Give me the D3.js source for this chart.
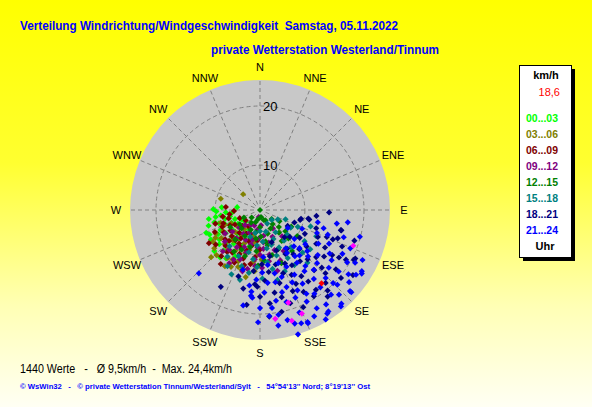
<!DOCTYPE html>
<html lang="de">
<head>
<meta charset="UTF-8">
<title>Verteilung Windrichtung/Windgeschwindigkeit</title>
<script src="https://d3js.org/d3.v7.min.js"></script>
<style>
  body { margin: 0; }
  svg { display: block; font-family: Arial, "Liberation Sans", sans-serif; }
  text { white-space: pre; }
</style>
</head>
<body>
<svg id="chart" width="592" height="407"></svg>
<script>
// [Richtung in Grad, Geschwindigkeit in km/h] je 3-Stunden-Block
const hours00 = [[271,10.3],[277,6.3],[255,10.4],[252,9.7],[230,11.4],[215,12.4],[262,9.1],[266,8.2],[248,8.8],[240,10.6],[236,9.4],[244,11.9],[258,7.6],[250,6.9],[233,8.1],[226,10.2],[222,11.6],[228,12.8],[218,9.6],[212,10.8],[260,11.2],[268,9.8],[246,7.7],[238,6.8],[224,7.9],[216,8.4],[206,9.2],[200,7.4],[210,6.2],[231,5.6],[242,5.9],[256,8.5],[264,7.2],[274,8.9],[234,10.9],[220,12.9],[247,12.3],[253,11.5],[239,12.1],[227,9.0],[208,11.3],[196,8.8],[213,7.0],[243,9.9],[261,10.0]];
const hours03 = [[286,9.3],[313,6.3],[226,13.9],[224,13.0],[207,13.2],[197,13.0],[234,10.5],[247,8.9],[192,14.0],[214,12.2],[219,11.0],[230,12.5],[238,11.3],[203,11.8],[211,10.4],[199,10.1],[222,9.3],[240,9.6],[205,8.6],[216,7.5],[228,8.0],[195,9.4],[187,11.2],[182,9.9],[201,12.7],[209,12.0],[233,7.1],[245,7.8],[252,9.4],[220,6.6],[190,7.9],[185,12.8],[236,12.0],[212,13.6],[178,10.8],[226,10.7],[242,10.9],[194,6.9]];
const hours06 = [[275,8.2],[244,10.9],[216,13.7],[262,7.6],[190,11.7],[268,6.8],[250,9.0],[235,8.5],[225,9.8],[212,9.1],[205,10.6],[198,9.6],[218,11.4],[230,10.1],[240,7.3],[255,7.9],[228,6.4],[210,7.0],[200,8.0],[193,8.6],[186,10.4],[214,8.2],[222,7.6],[238,9.6],[248,6.1],[260,8.8],[232,11.9],[206,12.3],[196,12.1],[220,12.6],[243,8.1],[224,10.8],[208,9.5],[202,6.7],[216,5.8],[185,7.6],[227,8.9],[237,12.7],[253,10.3],[213,11.0],[199,11.1],[180,9.1],[234,5.4],[246,9.4],[219,9.0]];
const hours09 = [[190,3.6],[140,8.2],[202,11.4],[164,13.1],[175,9.0],[182,7.2],[195,8.4],[205,6.6],[212,9.8],[220,8.6],[228,10.4],[186,10.8],[170,11.2],[160,9.6],[178,12.2],[192,12.6],[198,10.0],[208,11.9],[215,7.3],[225,6.0],[232,8.3],[200,5.2],[188,5.8],[172,6.8],[155,7.4],[150,10.4],[165,8.1],[180,10.0],[210,12.8],[236,9.5],[218,10.9],[194,7.6],[203,9.2],[184,8.7],[168,10.1],[176,5.0],[222,11.8],[196,13.2],[145,6.2],[158,11.6],[230,7.0],[212,5.4],[185,11.9],[174,7.9],[206,8.0]];
const hours12 = [[180,2.4],[128,4.9],[162,6.6],[180,5.3],[150,6.0],[140,7.4],[135,9.2],[145,8.8],[155,9.7],[170,7.8],[190,6.2],[200,4.6],[215,5.0],[225,6.8],[210,7.5],[195,8.9],[185,9.4],[165,10.3],[175,11.0],[160,4.2],[120,6.2],[130,8.0],[148,10.9],[205,9.8],[220,8.9],[235,6.6],[245,5.4],[172,3.6],[138,5.6],[152,4.4],[188,7.3],[198,10.6],[228,4.3],[240,8.2],[118,8.4],[168,8.5],[182,11.8],[212,10.7],[125,10.1],[142,11.2],[158,12.1],[192,4.0],[205,6.1],[178,6.9],[132,6.7]];
const hours15 = [[130,5.0],[120,8.4],[114,9.4],[196,14.7],[204,14.3],[153,9.5],[183,12.1],[140,10.6],[150,11.8],[160,10.6],[170,9.0],[125,11.6],[135,12.6],[145,7.0],[165,6.2],[175,7.8],[185,8.4],[195,9.8],[205,11.0],[215,12.0],[190,13.2],[178,14.0],[168,12.6],[158,13.6],[148,13.4],[110,7.0],[118,5.8],[132,8.6],[142,9.0],[155,7.8],[162,8.6],[172,11.3],[188,10.8],[198,12.4],[210,13.4],[220,10.4],[138,14.4],[128,13.2],[108,11.4],[180,6.0],[152,5.0],[200,7.2],[166,14.6],[115,12.9],[192,6.4]];
const hours18 = [[92,14.1],[104,9.4],[101,10.9],[104,16.6],[118,20.4],[142,21.0],[207,17.0],[182,15.4],[100,10.7],[102,9.5],[104,16.5],[108,12.4],[112,14.6],[112,15.7],[110,16.4],[117,20.5],[120,19.2],[120,15.1],[128,12.4],[121,13.5],[184,15.0],[175,20.5],[168,20.0],[133,16.7],[138,19.0],[145,18.9],[121,18.0],[125,21.6],[150,11.0],[155,12.4],[160,13.8],[165,15.2],[170,16.6],[158,17.2],[148,15.6],[142,13.4],[135,11.8],[130,14.8],[138,16.1],[152,18.1],[162,19.0],[172,13.0],[178,11.6],[168,10.4],[158,9.8],[145,10.4],[132,9.2],[125,10.6],[118,11.0],[115,13.2],[126,15.8],[134,17.8],[146,17.0],[154,14.6],[164,12.0],[176,14.4],[186,12.8],[192,16.0],[198,14.2],[188,18.6],[156,20.4],[140,20.2],[128,18.7],[114,17.6],[108,19.2],[96,12.0],[110,8.6],[120,7.8],[138,8.6],[160,8.2],[150,13.2],[143,11.8],[166,17.6],[174,18.3],[180,17.1],[148,19.6],[130,20.3],[122,16.8],[136,14.0],[154,16.3]];
const hours21 = [[98,17.4],[105,19.9],[122,22.7],[132,23.2],[140,23.7],[147,23.3],[157,23.2],[163,24.4],[163,22.5],[224,17.3],[186,17.0],[175,20.4],[108,17.3],[123,8.0],[134,11.7],[134,13.7],[128,14.8],[186,16.3],[185,17.3],[173,19.1],[157,23.0],[146,23.1],[139,23.4],[132,22.9],[121,22.5],[121,19.6],[128,19.3],[135,19.9],[155,17.4],[161,16.2],[162,14.3],[174,14.8],[178,13.0],[145,13.3],[138,16.0],[122,16.3],[112,12.8],[116,15.4],[118,18.2],[126,20.9],[130,17.6],[133,15.6],[136,18.4],[140,21.1],[142,17.2],[144,15.2],[147,19.3],[150,21.6],[150,16.8],[152,14.8],[153,19.8],[156,15.8],[158,18.4],[159,21.0],[164,18.6],[165,16.8],[166,21.6],[168,14.9],[170,18.0],[171,22.2],[177,16.4],[180,19.0],[181,21.4],[183,14.2],[188,15.3],[190,18.8],[143,12.2],[137,10.8],[127,12.0],[120,13.8],[114,10.2],[110,14.6],[106,13.6],[102,12.4],[148,11.0],[141,14.6],[131,13.0],[125,17.2],[119,20.8],[113,19.0],[129,21.8],[137,22.0],[145,21.9],[153,22.6],[160,22.8],[149,24.0],[134,20.6],[124,22.0],[155,13.0],[167,13.4],[172,11.8],[176,10.4],[196,12.9],[100,15.6],[116,21.7],[142,19.0],[146,10.2],[161,11.9],[151,18.6],[139,12.6],[130,10.0],[170,20.4]];
const markedValues = [[111,19.3],[163,18.8],[158,21.3],[172,21.0],[164,21.9]];
const currentValue = [[140,18.6]];

const hourLabels = ["00...03", "03...06", "06...09", "09...12", "12...15", "15...18", "18...21", "21...24"];
const compassLabels = ["N","NNE","NE","ENE","E","ESE","SE","SSE","S","SSW","SW","WSW","W","WNW","NW","NNW"];
const ringTicks = [10, 20];

const series = [hours00, hours03, hours06, hours09, hours12, hours15, hours18, hours21];
const hourColors = ["#00ff00", "#808000", "#800000", "#800080", "#008000", "#008080", "#000080", "#0000ff"];

const svg = d3.select("#chart");
const cx = 260, cy = 210, outerR = 130;

// Hintergrund
const grad = svg.append("defs").append("linearGradient")
    .attr("id", "bg").attr("x1", 0).attr("y1", 0).attr("x2", 0).attr("y2", 1);
grad.append("stop").attr("offset", "0%").attr("stop-color", "#ffff00");
grad.append("stop").attr("offset", "40%").attr("stop-color", "#ffff30");
grad.append("stop").attr("offset", "75%").attr("stop-color", "#ffffb4");
grad.append("stop").attr("offset", "100%").attr("stop-color", "#fffff4");
svg.append("rect").attr("width", 592).attr("height", 407).attr("fill", "url(#bg)");

const rScale = d3.scaleLinear().domain([2.4, 24.4]).range([0, outerR]).clamp(true);
const aScale = d3.scaleLinear().domain([0, 360]).range([0, 2 * Math.PI]);

const px = d => cx + rScale(d[1]) * Math.sin(aScale(d[0]));
const py = d => cy - rScale(d[1]) * Math.cos(aScale(d[0]));

const plot = svg.append("g");
plot.append("circle").attr("cx", cx).attr("cy", cy).attr("r", outerR).attr("fill", "#c8c8c8");

// Speichen
plot.selectAll(".spoke")
    .data(compassLabels)
    .enter().append("line")
    .attr("x1", (d, i) => cx + 6 * Math.sin(aScale(i * 22.5)))
    .attr("y1", (d, i) => cy - 6 * Math.cos(aScale(i * 22.5)))
    .attr("x2", (d, i) => cx + outerR * Math.sin(aScale(i * 22.5)))
    .attr("y2", (d, i) => cy - outerR * Math.cos(aScale(i * 22.5)))
    .attr("stroke", "#808080").attr("stroke-width", 1).attr("stroke-dasharray", "4,3");

// Ringe
plot.selectAll(".ring")
    .data(ringTicks)
    .enter().append("circle")
    .attr("cx", cx).attr("cy", cy).attr("r", d => rScale(d))
    .attr("fill", "none")
    .attr("stroke", "#808080").attr("stroke-width", 1).attr("stroke-dasharray", "4,3");

plot.selectAll(".ringlabel")
    .data(ringTicks)
    .enter().append("text")
    .attr("x", cx + 3)
    .attr("y", d => cy - rScale(d))
    .attr("dy", "0.35em")
    .attr("font-size", "13px")
    .attr("fill", "#000")
    .text(d => d);

// Himmelsrichtungen
svg.selectAll(".compass")
    .data(compassLabels)
    .enter().append("text")
    .attr("x", (d, i) => cx + 144 * Math.sin(aScale(i * 22.5)))
    .attr("y", (d, i) => cy - 143 * Math.cos(aScale(i * 22.5)))
    .attr("dy", "0.36em")
    .attr("text-anchor", "middle")
    .attr("font-size", "11px")
    .attr("fill", "#000")
    .text(d => d);

// Messwerte
const diamond = d3.symbol().type(d3.symbolSquare).size(19);

function drawPoints(data, color) {
    plot.append("g").selectAll("path")
        .data(data)
        .enter().append("path")
        .attr("d", diamond)
        .attr("transform", d => `translate(${px(d)},${py(d)}) rotate(45)`)
        .attr("fill", color);
}

series.forEach((s, i) => drawPoints(s, hourColors[i]));
drawPoints(markedValues, "#ff00ff");
drawPoints(currentValue, "#ff0000");

// Titel
svg.append("text")
    .attr("x", 20).attr("y", 30)
    .attr("font-size", "13px").attr("font-weight", "bold").attr("fill", "#0000ff")
    .attr("textLength", 378).attr("lengthAdjust", "spacingAndGlyphs")
    .text("Verteilung Windrichtung/Windgeschwindigkeit  Samstag, 05.11.2022");

svg.append("text")
    .attr("x", 211).attr("y", 54)
    .attr("font-size", "13px").attr("font-weight", "bold").attr("fill", "#0000ff")
    .attr("textLength", 228).attr("lengthAdjust", "spacingAndGlyphs")
    .text("private Wetterstation Westerland/Tinnum");

// Legende
const legend = svg.append("g");
legend.append("rect").attr("x", 523).attr("y", 69).attr("width", 52).attr("height", 192).attr("fill", "#000");
legend.append("rect").attr("x", 519.5).attr("y", 65.5).attr("width", 52).attr("height", 192)
    .attr("fill", "#fff").attr("stroke", "#000").attr("stroke-width", 1);

legend.append("text")
    .attr("x", 546).attr("y", 79).attr("text-anchor", "middle")
    .attr("font-size", "11px").attr("font-weight", "bold").attr("fill", "#000")
    .text("km/h");

legend.append("text")
    .attr("x", 560).attr("y", 96).attr("text-anchor", "end")
    .attr("font-size", "11px").attr("fill", "#ff0000")
    .text(currentValue[0][1].toFixed(1).replace(".", ","));

legend.selectAll(".hour")
    .data(hourLabels)
    .enter().append("text")
    .attr("x", 526)
    .attr("y", (d, i) => 122 + i * 16)
    .attr("font-size", "11px").attr("font-weight", "bold")
    .attr("fill", (d, i) => hourColors[i])
    .attr("textLength", 32).attr("lengthAdjust", "spacingAndGlyphs")
    .text(d => d);

legend.append("text")
    .attr("x", 545).attr("y", 250).attr("text-anchor", "middle")
    .attr("font-size", "11px").attr("font-weight", "bold").attr("fill", "#000")
    .text("Uhr");

// Fusszeilen
svg.append("text")
    .attr("x", 20).attr("y", 373)
    .attr("font-size", "12px").attr("fill", "#000")
    .attr("textLength", 212).attr("lengthAdjust", "spacingAndGlyphs")
    .text("1440 Werte   -   Ø 9,5km/h  -  Max. 24,4km/h");

svg.append("text")
    .attr("x", 20).attr("y", 389)
    .attr("font-size", "8px").attr("font-weight", "bold").attr("fill", "#0000ff")
    .attr("textLength", 350).attr("lengthAdjust", "spacingAndGlyphs")
    .text("© WsWin32   -   © private Wetterstation Tinnum/Westerland/Sylt   -   54°54'13'' Nord; 8°19'13'' Ost");
</script>
</body>
</html>
